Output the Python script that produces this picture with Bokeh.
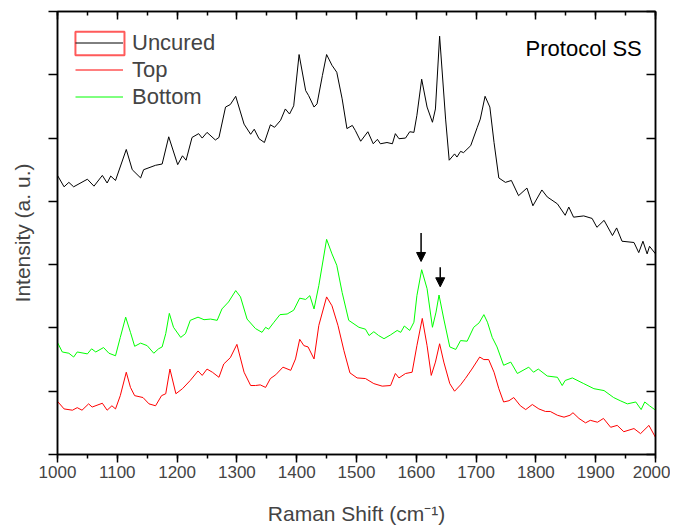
from bokeh.plotting import figure
from bokeh.models import (Range1d, LinearAxis, SingleIntervalTicker, Legend, LegendItem,
                          Label, Arrow, NormalHead, CustomLabelingPolicy, BoxAnnotation)
from bokeh.embed import file_html
from bokeh.resources import INLINE

# ---- data (Raman shift cm^-1, intensity a.u.) ----
uncured = [(1000,4.41),(1011,4.23),(1019,4.30),(1027,4.23),(1050,4.35),(1061,4.24),(1075,4.41),(1083,4.29),
           (1089,4.40),(1097,4.33),(1115,4.82),(1125,4.50),(1139,4.37),(1144,4.50),(1164,4.57),(1175,4.59),
           (1186,5.02),(1201,4.58),(1209,4.72),(1215,4.65),(1225,5.01),(1236,5.07),(1242,5.00),(1250,5.09),
           (1264,4.97),(1270,5.01),(1281,5.49),(1289,5.53),(1298,5.66),(1312,5.22),(1323,5.06),(1329,5.14),
           (1337,4.99),(1346,4.93),(1356,5.21),(1363,5.17),(1373,5.28),(1381,5.46),(1388,5.38),(1395,5.51),
           (1404,6.32),(1415,5.75),(1420,5.67),(1429,5.49),(1434,5.54),(1443,5.99),(1450,6.32),(1459,6.15),
           (1467,6.04),(1476,5.62),(1484,5.15),(1493,5.20),(1498,5.12),(1507,4.95),(1519,5.10),(1528,4.91),
           (1535,4.98),(1540,4.91),(1551,4.93),(1560,4.91),(1565,5.07),(1571,4.99),(1582,5.00),(1589,5.10),
           (1596,5.09),(1601,5.36),(1609,5.93),(1618,5.49),(1627,5.25),(1632,5.46),(1639,6.61),(1649,5.30),
           (1655,4.65),(1664,4.75),(1668,4.70),(1674,4.79),(1679,4.77),(1691,4.88),(1702,5.17),(1707,5.30),
           (1715,5.66),(1723,5.49),(1730,4.93),(1738,4.37),(1749,4.30),(1759,4.33),(1771,4.09),(1785,4.21),
           (1795,3.93),(1810,4.18),(1819,4.07),(1836,3.96),(1849,3.78),(1855,3.91),(1863,3.75),(1880,3.77),
           (1894,3.73),(1902,3.59),(1914,3.70),(1928,3.46),(1935,3.58),(1944,3.37),(1964,3.35),(1972,3.19),
           (1979,3.37),(1986,3.17),(1990,3.29),(2000,3.17)]

bottom = [(1000,1.77),(1008,1.62),(1019,1.60),(1027,1.54),(1033,1.62),(1050,1.59),(1057,1.67),(1064,1.62),
          (1077,1.69),(1086,1.60),(1097,1.56),(1105,1.85),(1114,2.17),(1122,1.93),(1129,1.71),(1139,1.76),
          (1150,1.72),(1161,1.60),(1169,1.67),(1175,1.70),(1181,1.91),(1187,2.23),(1194,2.01),(1206,1.85),
          (1214,1.91),(1222,2.12),(1235,2.17),(1245,2.13),(1256,2.14),(1267,2.12),(1275,2.30),(1286,2.41),
          (1298,2.59),(1306,2.49),(1317,2.14),(1331,1.99),(1342,1.93),(1348,2.01),(1353,1.98),(1362,2.09),
          (1372,2.21),(1384,2.22),(1395,2.28),(1405,2.47),(1415,2.45),(1422,2.51),(1429,2.30),(1437,2.67),
          (1450,3.40),(1459,3.17),(1467,2.99),(1476,2.56),(1487,2.12),(1504,2.01),(1515,1.98),(1521,1.88),
          (1529,1.94),(1537,1.88),(1546,1.83),(1557,1.89),(1568,1.96),(1574,1.93),(1580,2.03),(1589,1.96),
          (1596,2.09),(1601,2.51),(1609,2.92),(1618,2.62),(1627,2.01),(1633,2.25),(1638,2.52),(1646,2.14),
          (1656,1.70),(1666,1.66),(1674,1.80),(1685,1.79),(1696,2.01),(1705,2.08),(1713,2.21),(1719,2.09),
          (1727,1.85),(1735,1.70),(1746,1.41),(1758,1.46),(1769,1.28),(1788,1.38),(1796,1.30),(1804,1.35),
          (1819,1.24),(1836,1.22),(1844,1.09),(1849,1.17),(1861,1.21),(1880,1.12),(1897,1.04),(1914,1.01),
          (1930,0.90),(1941,0.85),(1953,0.80),(1967,0.83),(1976,0.71),(1982,0.83),(1990,0.77),(2000,0.70)]

top = [(1000,0.84),(1011,0.72),(1025,0.70),(1033,0.74),(1041,0.70),(1052,0.80),(1058,0.75),(1075,0.81),
       (1083,0.70),(1091,0.77),(1097,0.72),(1105,0.93),(1115,1.30),(1122,1.06),(1129,0.93),(1143,0.90),
       (1153,0.80),(1164,0.77),(1174,0.93),(1181,0.96),(1188,1.35),(1198,0.96),(1209,1.04),(1222,1.17),
       (1235,1.32),(1242,1.25),(1250,1.35),(1259,1.30),(1270,1.22),(1278,1.43),(1289,1.53),(1300,1.74),
       (1312,1.30),(1323,1.09),(1331,1.09),(1339,1.10),(1348,1.06),(1356,1.20),(1365,1.26),(1377,1.38),
       (1390,1.33),(1398,1.51),(1405,1.82),(1412,1.72),(1419,1.70),(1429,1.51),(1437,2.04),(1450,2.49),
       (1459,2.35),(1469,2.04),(1479,1.64),(1489,1.29),(1501,1.21),(1515,1.20),(1529,1.12),(1543,1.08),
       (1557,1.09),(1565,1.28),(1571,1.21),(1582,1.28),(1593,1.30),(1601,1.72),(1610,2.15),(1618,1.72),
       (1625,1.25),(1632,1.46),(1639,1.75),(1646,1.46),(1656,1.12),(1664,1.00),(1674,1.10),(1682,1.20),
       (1693,1.35),(1706,1.54),(1713,1.50),(1721,1.50),(1730,1.30),(1738,1.04),(1746,0.83),(1755,0.85),
       (1763,0.90),(1774,0.77),(1783,0.71),(1794,0.79),(1805,0.72),(1816,0.68),(1824,0.68),(1836,0.62),
       (1847,0.59),(1857,0.62),(1862,0.66),(1872,0.57),(1883,0.50),(1891,0.54),(1903,0.51),(1913,0.57),
       (1925,0.43),(1936,0.46),(1947,0.36),(1964,0.41),(1975,0.33),(1989,0.46),(2000,0.27)]

# arrow annotations (x, y_start, y_end)
arrows = [(1608, 3.50, 3.05), (1640, 2.96, 2.65)]

series_labels = ["Uncured", "Top", "Bottom"]
series_colors = ["#000000", "#ff0000", "#00ff00"]

FONT = "Liberation Sans"

p = figure(width=670, height=528, output_backend="svg", toolbar_location=None,
           x_range=Range1d(1000, 2000), y_range=Range1d(0, 7),
           min_border_left=57, min_border_right=15, min_border_top=11, min_border_bottom=74)
p.xgrid.visible = False
p.ygrid.visible = False
p.outline_line_color = "black"
p.outline_line_width = 1.5
p.background_fill_color = "white"
p.border_fill_color = "white"

no_labels = CustomLabelingPolicy(code="""
    for (const i of Array.from(indices)) { indices.unset(i) }
    return indices
""")

# bottom axis
xa = p.xaxis[0]
xa.ticker = SingleIntervalTicker(interval=100, num_minor_ticks=2)
xa.axis_label = "Raman Shift (cm\u207b\u00b9)"
xa.axis_label_text_font = FONT
xa.axis_label_text_font_style = "normal"
xa.axis_label_text_font_size = "21px"
xa.axis_label_standoff = 21
xa.major_label_text_font = FONT
xa.major_label_text_font_size = "17px"
xa.major_label_standoff = 3
xa.major_tick_out = 8
xa.major_tick_in = 0
xa.minor_tick_out = 4
xa.minor_tick_in = 0
xa.axis_line_width = 1.5
xa.major_tick_line_width = 1.5
xa.minor_tick_line_width = 1.5

# left axis
ya = p.yaxis[0]
ya.ticker = SingleIntervalTicker(interval=1, num_minor_ticks=0)
ya.axis_label = "Intensity (a. u.)"
ya.axis_label_text_font = FONT
ya.axis_label_text_font_style = "normal"
ya.axis_label_text_font_size = "21px"
ya.axis_label_standoff = 5
ya.major_label_policy = no_labels
ya.major_label_standoff = 0
ya.major_tick_out = 9
ya.major_tick_in = 0
ya.axis_line_width = 1.5
ya.major_tick_line_width = 1.5

# top axis (ticks inward, no labels)
ta = LinearAxis(ticker=SingleIntervalTicker(interval=100, num_minor_ticks=2),
                major_label_policy=no_labels, major_label_standoff=0,
                major_tick_in=8, major_tick_out=0, minor_tick_in=4, minor_tick_out=0,
                axis_line_width=1.5, major_tick_line_width=1.5, minor_tick_line_width=1.5)
p.add_layout(ta, "above")
# right axis (ticks inward, no labels)
ra = LinearAxis(ticker=SingleIntervalTicker(interval=1, num_minor_ticks=0),
                major_label_policy=no_labels, major_label_standoff=0,
                major_tick_in=9, major_tick_out=0, minor_tick_in=0, minor_tick_out=0,
                axis_line_width=1.5, major_tick_line_width=1.5)
p.add_layout(ra, "right")

# spectra
r_unc = p.line([d[0] for d in uncured], [d[1] for d in uncured], line_color=series_colors[0], line_width=1)
r_top = p.line([d[0] for d in top], [d[1] for d in top], line_color=series_colors[1], line_width=1)
r_bot = p.line([d[0] for d in bottom], [d[1] for d in bottom], line_color=series_colors[2], line_width=1)

items = [LegendItem(label=series_labels[0], renderers=[r_unc]),
         LegendItem(label=series_labels[1], renderers=[r_top]),
         LegendItem(label=series_labels[2], renderers=[r_bot])]
legend = Legend(items=items, location="top_left", margin=6, padding=12,
                glyph_width=48, glyph_height=27, label_height=20, spacing=0, label_standoff=9,
                label_text_font=FONT, label_text_font_size="22px",
                border_line_alpha=0, background_fill_alpha=0)
p.add_layout(legend)

# Origin-style outline around the first legend sample
p.add_layout(BoxAnnotation(left=1030, right=1112, bottom=6.31, top=6.68,
                           fill_alpha=0, line_color="#ff5a5a", line_width=2, line_alpha=1))

p.add_layout(Label(x=1977, y=6.41, text="Protocol SS", text_align="right", text_baseline="middle",
                   text_font=FONT, text_font_size="22px", text_color="black"))

for ax_x, y0, y1 in arrows:
    p.add_layout(Arrow(x_start=ax_x, y_start=y0, x_end=ax_x, y_end=y1, line_width=1.5,
                       line_color="black",
                       end=NormalHead(size=9, fill_color="black", line_color="black")))

open("out.html", "w").write(file_html(p, INLINE))
